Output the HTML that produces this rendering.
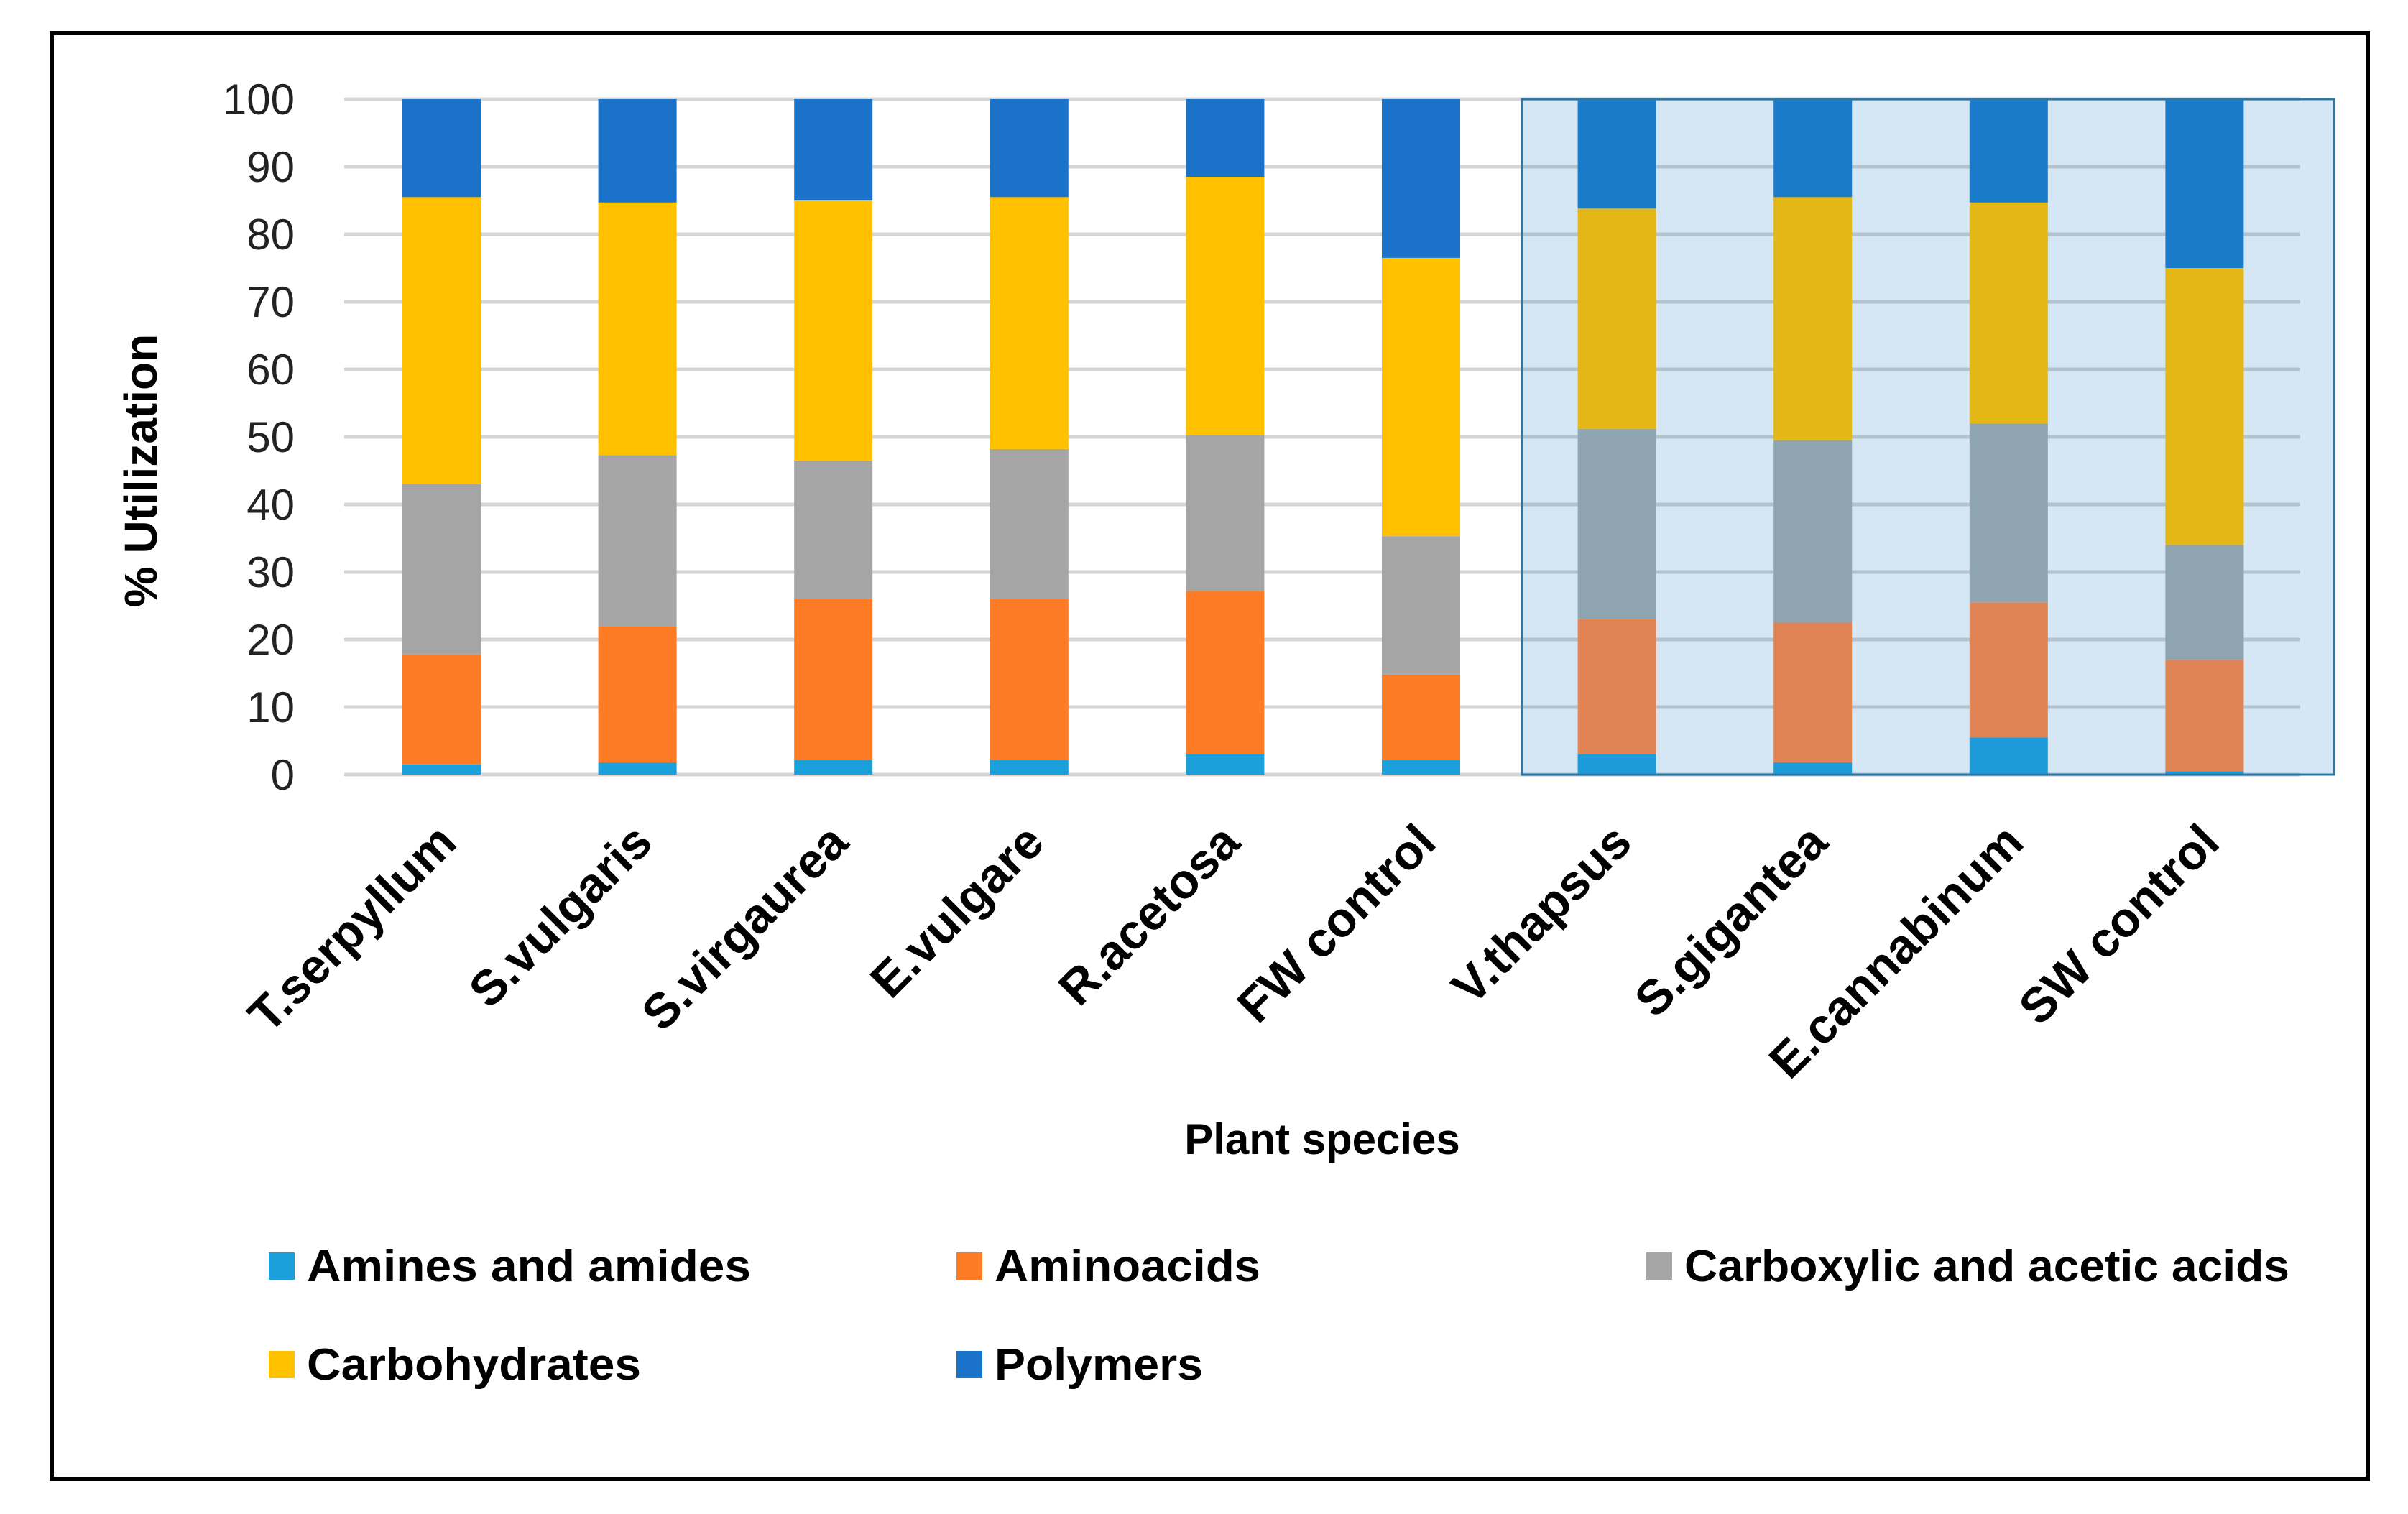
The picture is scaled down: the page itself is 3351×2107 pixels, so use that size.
<!DOCTYPE html>
<html><head><meta charset="utf-8"><style>
html,body{margin:0;padding:0;background:#fff}
svg{display:block}
text{font-family:"Liberation Sans",sans-serif}
</style></head><body>
<svg id="chart" width="3351" height="2107" viewBox="0 0 3351 2107" xmlns="http://www.w3.org/2000/svg">
<rect x="0" y="0" width="3351" height="2107" fill="#fff"/>
<rect x="72" y="46" width="3223" height="2012" fill="none" stroke="#000" stroke-width="6"/>
<g id="shade"></g><g id="grid"></g><g id="bars"></g><g id="shadeborder"></g><g id="yticks"></g><g id="xlabels"></g><g id="legend"></g>
<text x="0" y="0" transform="translate(218,655) rotate(-90)" text-anchor="middle" font-size="64" font-weight="bold" fill="#000">% Utilization</text>
<text x="1840" y="1606" text-anchor="middle" font-size="60" font-weight="bold" fill="#000">Plant species</text>
</svg>
<script>
const categories=["T.serpyllum","S.vulgaris","S.virgaurea","E.vulgare","R.acetosa","FW control","V.thapsus","S.gigantea","E.cannabinum","SW control"];
const amines=[1.5,1.8,2.2,2.2,3.0,2.2,3.0,1.8,5.5,0.5];
const aminoacids=[16.3,20.2,23.8,23.8,24.2,12.6,20.0,20.7,20.0,16.5];
const carboxylic=[25.2,25.3,20.5,22.2,23.1,20.5,28.2,27.0,26.5,17.0];
const carbohydrates=[42.5,37.4,38.5,37.3,38.2,41.2,32.6,36.0,32.7,41.0];
const polymers=[14.5,15.3,15.0,14.5,11.5,23.5,16.2,14.5,15.3,25.0];
const yTicks=[0,10,20,30,40,50,60,70,80,90,100];
const seriesNames=["Amines and amides","Aminoacids","Carboxylic and acetic acids","Carbohydrates","Polymers"];
const NS="http://www.w3.org/2000/svg";
const X0=479,X1=3201,Y0=1078,Y100=138,C0=614.5,STEP=272.6,BW=109,SX0=2118,SX1=3248;
function y(v){return Y0-(Y0-Y100)*v/100;}
function x(i){return C0+STEP*i;}
function mk(tag,attrs,parent){const e=document.createElementNS(NS,tag);for(const k in attrs)e.setAttribute(k,attrs[k]);parent.appendChild(e);return e;}
const shade=document.getElementById('shade'),grid=document.getElementById('grid'),bars=document.getElementById('bars');
const sh=mk('rect',{x:SX0,y:138,width:SX1-SX0,height:940,fill:'#d5e7f4'},shade);


const sb=mk('rect',{x:SX0,y:138,width:SX1-SX0,height:940,fill:'none',stroke:'#2e78a8','stroke-width':3},document.getElementById('shadeborder'));


const yt=document.getElementById('yticks');
yTicks.forEach(t=>{
  const l=mk('line',{x1:X0,x2:SX0,y1:y(t),y2:y(t),stroke:'#d6d6d6','stroke-width':5},grid);
  
  
  const l2=mk('line',{x1:SX0,x2:X1,y1:y(t),y2:y(t),stroke:'#b3c3ce','stroke-width':5},grid);
  
  
  const tx=mk('text',{x:410,y:y(t)+21,'text-anchor':'end','font-size':60,fill:'#222'},yt);
  tx.textContent=t;
  
  
});
const series=[amines,aminoacids,carboxylic,carbohydrates,polymers];
const colors=["#1ca0dc","#fd7b25","#a5a5a5","#ffc000","#1a72c9"];
const shadedColors=["#1c9bd8","#e08456","#8fa4b1","#e2b716","#1a7bcb"];
const keys=["amines","aminoacids","carboxylic","carbohydrates","polymers"];
categories.forEach((c,i)=>{
  let cum=0;
  series.forEach((s,k)=>{
    const v=s[i];
    const r=mk('rect',{x:x(i)-BW/2,y:y(cum+v),width:BW,height:y(cum)-y(cum+v),fill:(i>=6?shadedColors:colors)[k]},bars);
    
    
    cum+=v;
  });
  const xl=document.getElementById('xlabels');
  const t=mk('text',{x:0,y:0,transform:'translate('+(x(i)+24)+',1176) rotate(-45)','text-anchor':'end','font-size':68,'font-weight':'bold',fill:'#000'},xl);
  t.textContent=c;
  
  
});
const lg=document.getElementById('legend');
const lpos=[[374,1763],[1331,1763],[2291,1763],[374,1900],[1331,1900]];
const lw=[618,370,842,465,290];
seriesNames.forEach((n,k)=>{
  const g=mk('g',{},lg);
  
  
  const sq=mk('rect',{x:lpos[k][0],y:lpos[k][1]-20,width:36,height:38,fill:colors[k]},g);
  
  
  const t=mk('text',{x:lpos[k][0]+53,y:lpos[k][1]+20,'font-size':62,'font-weight':'bold',fill:'#000',textLength:lw[k],lengthAdjust:'spacingAndGlyphs'},g);
  t.setAttribute('style','font-family:"Liberation Sans Narrow","Liberation Sans",sans-serif');
  t.textContent=n;
  
  
});
</script>
</body></html>
